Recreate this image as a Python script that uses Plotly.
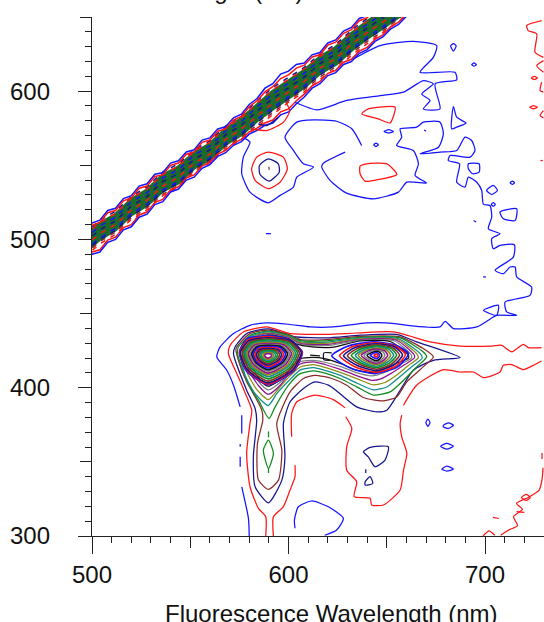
import plotly.graph_objects as go

BLUE, RED, NAVY, BROWN, GREEN, TEAL, OLIVE, PURPLE, GRAY, BLACK = (
    "#1414ff", "#ff1414", "#14148c", "#8c2a2a", "#0f8c1e", "#0f8c8c", "#8c8c14", "#8c148c", "#808080", "#111111")
CYCLE = [BLUE, RED, NAVY, BROWN, GREEN, TEAL, OLIVE, PURPLE, GRAY, BLACK]

# ---- level 1 (blue) contours, (emission nm, excitation nm)
blue_outer_a = [(580,300),(579.6,311.9),(576.2,333.2)]
blue_outer_b = [(575.4,346.7),(575.4,353.4)]
blue_outer_c = [(575.4,360.2),(575.4,362)]
blue_outer_d = [(576.2,369.1),(576.2,381.5)]
blue_outer_main = [(575.4,387.1),(572,401.7),(568.6,411.8),(563.5,420.8),(565.2,427.5),(572,436.5),(580.4,442.1),(588.9,443.7),(599.9,442.8),
    (611,441),(622.8,441),(639.8,443.7),(650,443.7),(665.2,441.4),(677.1,441),(679.7,444.8),(683.9,439.9),(695.8,441),(704.2,447.7),(705.9,448.8),
    (716.1,448.8),(711,451.1),(710.2,457.8),(722.9,462.3),(723.7,467.9),(716.1,474.7),(715.3,481.4),(712.7,481.4),(709.3,476.9),(705.1,479.2),
    (714.4,488.1),(714.9,496.4),(707.6,496),(704.2,493.7),(703.4,500.5),(707.6,503.8),(701.7,507.2),(703.4,515.1),(702.5,522.9),(699.2,523.6),
    (698.3,533),(695.8,538.6),(691.5,542),(689.8,535.3),(685.6,538.6),(687,551),(681.3,553.2),(682.2,556.6),(692.4,555.5),(694.9,560),(693.2,566.7),
    (689.8,569),(685.6,560),(677.1,558.9),(666.9,557.7),(676.3,562.2),(678.8,571.2),(677.1,579.1),(668.6,579.1),(665.2,575.7),(656.8,574.6),(657.6,569),
    (655,563.3),(663.5,560),(666.1,551),(664.4,543.1),(670.3,538),(660.2,538.6),(655.9,531.9),(643.2,527.4),(629.6,531.2),(621.1,539.8),(616.9,548.8),
    (617.7,551.4),(628.8,558.9)]
blue_mid_return = [(637.2,563.3),(632.2,574.6),(624.5,579.7),(612.7,580.6),(604.2,579.1),(598.2,569),(602.5,560),(607.6,551),(612.7,548.8),(604.2,542),
    (602.5,535.3),(595.7,529.7),(589.7,524.7),(580.4,531.9),(576.2,544.3),(577,555.5),(580.4,565.6),(578,568)]
blue_upper = [(603.3,592.5),(614.4,587.4),(629.6,593.7),(646.6,597),(658.5,599.3),(668.6,607.1),(673.7,604.9),(667.8,598.1),(672,593.7),(668.6,588),
    (677.1,588),(674.6,604.9),(685.6,607.6),(684.7,612.7),(666.9,612.7),(673.7,622.8),(675.4,630.7),(663.5,633.6),(646.6,630.7),(633,621.7)]
blue_islands = [
    [(706.8,455.6),(699.2,452.2),(705.9,448.8),(706.8,455.6)],
    [(683.9,632),(682.5,630.5),(683.9,627),(685.3,630.5),(683.9,632)],
    [(694.4,619),(693.2,617.9),(694.4,616.8),(695.6,617.9),(694.4,619)],
    [(683.9,589.6),(685.6,582.4),(690.3,578.4),(685.6,575.7),(683,574.6),(683.9,589.6)],
    [(648.6,572.8),(651,574),(653.4,572.8),(651,571.8),(648.6,572.8)],
    [(643.4,563.8),(644.5,565),(645.7,563.8),(644.5,562.6),(643.4,563.8)],
    [(669,573.8),(670,573)],
    [(704.2,536.4),(706.3,533),(703.4,530.3),(700.8,533),(704.2,536.4)],
    [(691.5,551),(697,551),(697,545.4),(693.7,544.3),(691.5,547.6),(691.5,551)],
    [(712.8,538.2),(713.9,539.3),(715,538.2),(713.9,537.1),(712.8,538.2)],
    [(707.6,518.4),(716.1,520.7),(715.3,512.8),(709.3,514),(707.6,518.4)],
    [(703.2,523.6),(704.2,524.8),(705.2,523.6),(704.2,522.4),(703.2,523.6)],
    [(694.2,512.8),(695.5,511.8)],
    [(699,474.7),(700.5,474.7)],
    [(588.5,503.9),(591,503.9)],
    [(670.9,373.9),(672,376.5),(670.9,378.9),(669.9,376.5),(670.9,373.9)],
    [(678.8,374.7),(681.4,376.3),(683.9,374.7),(681.4,372.5),(678.8,373.6),(678.8,374.7)],
    [(677.4,360.6),(680.5,362.4),(683.9,360.6),(680.5,358.6),(677.4,360.6)],
    [(678,345.1),(680.5,347.1),(683.9,345.1),(680.5,343.8),(678,345.1)],
    [(603.3,305.2),(603,310.8),(605,319.7),(611.8,323.6),(620.3,319.7),(627.9,311.9),(624.5,304),(618.4,300.5)],
]

# ---- level 2 (red) contours
red_stem_left = [(588.4,300),(588.4,313),(584.7,318.6),(580.4,333.2),(578.7,355.7),(580.4,375.9),(581.3,384.9),(577,399.4),(573.7,409.5),(569.4,423),
    (570.3,428.6),(577,437.6),(588.9,441),(600.8,436.5),(619.4,436),(634.7,436.9),(653.4,437.6),(672,430.9),(687.3,428.1),(703.4,428.1),(708.5,428.6),
    (713.6,424.1),(719.5,429.3),(722.1,427),(728.8,427)]
red_right_a = [(592.3,300),(592.3,313),(597.4,319.8),(600.8,331),(603.3,340),(603.3,347.8)]
red_right_b = [(601.6,366.9),(601.6,382.6),(604.2,390.5),(613.5,395),(622.8,392),(628.8,386.4)]
red_right_c = [(629.1,380.4),(632.2,372.5),(629.6,360.2),(629.6,344.4),(634.7,336.6),(633.4,326.5),(641.5,325.4),(642.3,320.9),(648.3,320.9),(656.8,331),
    (658.5,344.4),(660.2,355.7),(657.6,366.9),(656.8,375.9),(657.6,381.5)]
red_right_d = [(658.5,388.2),(665.2,401.7),(678.8,412.2),(687.3,410.6),(694.1,410.6),(699.2,406.8),(707.6,410.6),(709.3,415.1),(713.6,415.6),(719.5,412.2),
    (724.6,415.1),(728.8,418)]
red_corner = [(699,300),(702,303.5),(705,300.5)]
red_corner_b = [(708,300.5),(712,304),(716.5,307),(714.5,313),(719,318),(716,322),(722,326),(727.5,331),(729,338),(729.5,346)]
red_corner_c = [(704,312.5),(707,311.8)]
red_corner_d = [(716,316.5),(720,316)]
red_corner_e = [(718.5,326),(721,328),(723,326),(721,324),(718.5,326)]
red_corner_f = [(729,352),(729,356)]
red_islands = [
    [(637.3,584.7),(640.6,588),(654.2,589.2),(651.7,578.6),(645.7,581.3),(637.3,584.7)],
    [(636.4,549.4),(639.8,551),(650,551),(655.1,543.8),(644.9,540.2),(638.9,539.3),(636.4,544.3),(636.4,549.4)],
    [(589.7,558.9),(597.4,555.5),(599.4,547.6),(595.7,538.6),(589.7,534.2),(583,539.8),(581.2,547.6),(583.8,555.5),(589.7,558.9)],
    [(599,591.4),(600.7,586.9),(597.4,579),(588.9,573.4),(581.2,574.6)],
    [(728.8,647.5),(721.2,644.2),(722,640.8),(726.3,638.6),(725.4,626.2),(729.7,622.8)],
    [(729.7,620.6),(726.3,617.2),(729.7,612.7)],
    [(723.6,608.9),(725.1,610),(726.6,608.9),(725.1,607.8),(723.6,608.9)],
    [(728.8,606),(728,600.4),(729.7,599.3)],
    [(722.8,589.2),(724.6,590.3),(726.6,589.2),(724.6,588.1),(722.8,589.2)],
    [(729.7,586.9),(728,583.5),(729.7,582)],
    [(728.2,553.2),(729.4,553.2)],
]

# ---- level 3 (navy) contours
navy_main = [(589.8,322.4),(583,333.2),(582.1,353.4),(583.8,378.1),(583,386),(578.7,398.3),(572,423),(572.8,427.5),(578.7,436.5),(589.8,439.6),(602.5,434.5),
    (619.4,433.6),(636.4,435.4),(655,436),(665.2,430.9),(687.3,420.3),(673.7,418.5),(663.5,411.8),(656.8,398.3),(650,384.8),(644.9,383.7),(634.7,387.1),
    (626.2,396),(620.3,401.7),(613.5,403.9),(607.6,399.4),(600.8,390.5),(597.4,375.9),(598.2,353.4),(596.6,337.7),(589.8,322.4)]
navy_islands = [
    [(589.7,554.4),(594.8,551),(595.3,545.4),(590.2,539.3),(585.5,543.8),(585.2,549.9),(589.7,554.4)],
    [(594.8,582.4),(588.9,576.8),(584.6,577.9)],
    [(638.1,356.8),(641.5,359.7),(650.8,360.2),(649.1,351.2),(644,346.7),(640.6,353.4),(638.1,356.8)],
    [(639,336.6),(641.5,340),(642.9,335.4),(639,334.3),(639,336.6)],
    [(639.3,342.5),(639.3,345)],
]

# ---- levels 4 to 10
brown_main = [(589.8,331.4),(584.7,337.7),(584.2,362.4),(586.9,378.1),(586.4,384.9),(582.1,396),(578.7,404),(574.5,418.5),(573.3,426.4),(580.4,436.5),(589.8,438.8),(600,436),
    (606,432.5),(619.4,432.5),(636.4,434.6),(656.8,434.3),(668.6,426.4),(673.7,420.8),(669.5,415.2),(660.2,404),(655,393.8),(648.3,391.1),(638.1,393.4),(629.6,401.7),
    (622,406.2),(613.5,408.4),(607.6,406.2),(600.8,397.2),(594,375.9),(596.6,357.9),(594.9,337.7),(589.8,331.4)]
brown_dot = [(590.2,547),(590,549)]
green_stem = [(589.8,364.6),(587.2,358),(589.8,345.6),(592.3,355.7),(589.8,364.6)]
green_stem_b = [(589.8,366.5),(589.8,370.5)]
green_stem_c = [(589.8,342.5),(589.8,345.6)]
green_main = [(590.1,379.2),(584.7,391.6),(580.4,400.6),(576.2,414),(574,423),(574.5,427.5),(581.3,435.8),(589.8,438.2),(600,435.3),(606,431.7),(619.4,431.6),(636.4,434),(656.8,433.6),
    (668.6,424.1),(670.3,420.8),(665.2,414),(656.8,402.8),(651.7,397.2),(643.2,395),(634.7,400.6),(626.2,406.2),(619.4,409.5),(612.7,411.3),(605.9,409.5),(600,401.7),(593.2,387.1),(590.1,379.2)]
teal_main = [(589.7,388),(583,396),(578,408),(575.5,422),(576,428),(582,435.3),(589.8,437.6),(600,434.8),(606,431),(620,430.8),(636.4,433.5),(656,433),(667,423),(668,420),(663,414.5),(655,405.5),
    (650,400.5),(643.2,398.5),(635,403),(626,408.5),(619,411.5),(612.7,413.5),(606,412),(600,404.5),(594,396),(589.7,388)]
olive_main = [(589.7,392),(584,398.5),(579,410),(576.5,422),(577,427.5),(583,435),(589.8,437),(600,434.3),(606,430.4),(620,430),(636.4,433),(655.5,432.5),(665.5,422.5),(666,420),(661,415),(654,407.5),
    (649,403.5),(643,402),(635,406),(626,410.5),(619,413.5),(612.7,415.5),(606,414),(600,407),(595,399.5),(589.7,392)]
purple_main = [(589.7,395.5),(585,401),(580,411),(577.5,422),(578,427),(584,434.7),(589.8,436.5),(600,433.9),(606,429.8),(620,429.2),(636.4,432.5),(655,432),(664,422),(664,420),(659,415.5),(652,409.5),
    (647,406),(642.5,405),(635,408),(626,412.5),(619,415.5),(612.7,417.5),(606,416),(600,409),(596,402),(589.7,395.5)]
gray_main = [(589.7,398.5),(585.5,403),(581,412),(578.5,422),(579,426.5),(585,434.3),(589.8,436),(600,433.5),(606,429.2),(620,428.4),(636.4,432),(654,431.5),(662.5,422),(662.5,420),(657,416),(650,411),
    (645,408.5),(642,408),(635,410),(627,414),(619,417),(612.7,418.5),(606,417.5),(601,411),(597,405),(589.7,398.5)]
black_main = [(589.7,401),(586,404.5),(582,413),(579.5,422),(580,426.5),(586,434),(589.8,435.5),(600,433),(604,429.5),(612,427.5),(622,427.2),(636.4,431.5),(652,431),(661,422),(661,420),(655,416.5),(648,412.5),
    (644,410.5),(640,410.5),(634,412),(627,416),(619,419.5),(612,420.5),(606,419.5),(601,413),(597,406.5),(589.7,401)]

# ---- inner rings of the 420/590 peak
peak_a_rings = [
 [(589.5,435),(600,432.7),(607,424),(602.8,411.5),(589.5,402),(578.5,411.5),(575,424),(579,433)],
 [(589.5,434.4),(600.2,432),(606.8,424),(602.5,412),(589.5,402.5),(578.8,412),(575.3,424),(579.4,432.3)],
 [(589.5,433.7),(601.4,431.5),(606.5,423.8),(602.3,412.3),(589.5,403.3),(579,412.3),(575.5,423.8),(579.7,431.6)],
 [(589.5,433),(600.7,430.9),(605.5,423.7),(601.5,413),(589.5,404.5),(579.8,413),(576.5,423.7),(580.4,430.9)],
 [(589.5,432.2),(600,430.3),(604.5,423.6),(600.8,413.8),(589.5,406),(580.4,413.8),(577.3,423.6),(581,430.3)],
 [(589.5,431.4),(599.3,429.7),(603.5,423.4),(600,414.5),(589.5,407.5),(581,414.5),(578.1,423.4),(581.5,429.7)],
 [(589.5,430.6),(598.6,429.2),(602.5,423.3),(599.3,415.1),(589.5,408.7),(581.5,415.1),(578.9,423.3),(582.1,429.2)],
 [(589.5,429.8),(597.9,428.6),(601.5,423.2),(598.5,415.7),(589.5,409.9),(582.2,415.7),(579.7,423.2),(582.6,428.6)],
 [(589.5,429.1),(597.2,428),(600.5,423),(597.8,416.3),(589.5,411.1),(582.8,416.3),(580.5,423),(583.2,428)],
 [(589.5,428.5),(596.5,427.5),(599.5,422.9),(597,416.9),(589.5,412.2),(583.4,416.9),(581.3,422.9),(583.8,427.5)],
 [(589.5,427.8),(595.8,426.9),(598.5,422.8),(596.3,417.4),(589.5,413.3),(584,417.4),(582.1,422.8),(584.3,426.9)],
 [(589.5,427.1),(595.1,426.3),(597.5,422.6),(595.5,417.9),(589.5,414.3),(584.5,417.9),(582.9,422.6),(584.9,426.3)],
 [(589.5,426.4),(594.4,425.7),(596.5,422.5),(594.8,418.4),(589.5,415.3),(585.1,418.4),(583.7,422.5),(585.4,425.7)],
 [(589.5,425.7),(593.7,425.1),(595.5,422.3),(594,418.9),(589.5,416.3),(585.7,418.9),(584.5,422.3),(586,425.1)],
 [(589.5,425),(593,424.5),(594.5,422.2),(593.3,419.4),(589.5,417.3),(586.4,419.4),(585.3,422.2),(586.6,424.5)],
 [(589.5,424.3),(592.3,423.9),(593.5,422.1),(592.5,419.9),(589.5,418.2),(587,419.9),(586.1,422.1),(587.1,423.9)],
 [(589.5,423.6),(591.6,423.3),(592.5,421.9),(591.8,420.3),(589.5,419.1),(587.6,420.3),(587,421.9),(587.7,423.3)],
 [(589.5,422.9),(590.9,422.7),(591.5,421.8),(591,420.8),(589.5,420),(588.3,420.8),(587.9,421.8),(588.4,422.7)],
]

# ---- inner rings of the 420/645 peak
peak_b_rings = [
 [(643,431),(655,428.5),(661,423),(655.5,414),(644,409.5),(632,413),(622,421.5),(630,428)],
 [(644,430.3),(654.5,428),(659.5,422.5),(654.5,414.5),(644.5,410.5),(634,414),(626,421.5),(632,427.5)],
 [(644.5,429.6),(654,427.5),(658,422),(653.5,415.3),(644.8,411.5),(635,415),(628,421.5),(633.5,427)],
 [(644.8,428.9),(653,427),(656.5,422),(652.5,416),(644.8,412.5),(636,415.8),(630,421.6),(635,426.5)],
 [(644.8,428.2),(652,426.5),(655,422),(651.5,416.7),(644.8,413.5),(637,416.5),(632,421.7),(636.5,426)],
 [(644.8,427.5),(651,426),(653.5,421.9),(650.5,417.4),(644.8,414.5),(638,417.2),(634,421.8),(638,425.5)],
 [(644.8,426.8),(650,425.4),(652,421.9),(649.5,418),(644.8,415.5),(639,417.9),(635.5,421.8),(639,425)],
 [(644.8,426),(649,424.8),(650.5,421.9),(648.5,418.6),(644.8,416.4),(640,418.5),(637,421.8),(640,424.5)],
 [(644.8,425.3),(648,424.3),(649,421.9),(647.5,419.1),(644.8,417.3),(641,419.1),(638.5,421.8),(641,424)],
 [(644.8,424.6),(646.5,423.8),(647.5,421.9),(646.5,419.6),(644.8,418.2),(642,419.6),(640,421.8),(642,423.5)],
 [(644.8,423.7),(645.8,423),(646.3,421.9),(645.8,420.5),(644.8,419.5),(643,420.5),(641.5,421.8),(643,423)],
 [(644.8,422.7),(645.3,422.3),(645.5,421.9),(645.2,421.2),(644.8,420.8),(644,421.2),(643.5,421.8),(644,422.4)],
]
peak_bridge_dash = [(611,422),(616,421.5)]
peak_bridge_box = [(621,418.5),(618,419),(618,423.5),(622,423.5)]

# ---- diagonal scatter ridge: excitation minus emission along each line
ridge_emission = [496,504,512,520,528,536,544,552,560,568,576,584,592,600,608,616,624,632,640,648,656,664]
ridge_core = [
 [5.5,6.5,4.5,6.5,5,7,4.5,6,4,6,5,6.5,7.5,6.5,5.5,6.5,5,6.5,6.5,5.5,5,5.5],
 [3,3.5,2,4,2.5,4,2,3.5,1.5,3.5,2.5,4,4.5,4,3,3.5,2.5,3.5,3.5,3,2.5,3],
 [0.5,1.5,0,2,0.5,2,0,1.5,-0.5,1.5,0.5,1.5,2,1.5,0.5,1.5,0,1.5,1.5,0.5,0,0.5],
 [-2,-1,-2.5,-0.5,-2,-1,-3,-1.5,-3,-1.5,-2.5,-1.5,-1,-1.5,-2.5,-1.5,-3,-1.5,-1.5,-2.5,-3,-2],
 [-4.5,-3.5,-5,-3,-4.5,-3,-5.5,-3.5,-5.5,-3.5,-5,-3.5,-3.5,-4,-5,-3.5,-5.5,-4,-4,-5,-5.5,-4.5],
]
ridge_lines = [
 (NAVY,  [7.5,9,7,9,7.5,9.5,7,8.5,6.5,8.5,7.5,9.5,10.5,9.5,8,9,7.5,9,9,8,7.5,8]),
 (RED,   [6.5,7.5,5.5,8,6,8,5.5,7.5,5.5,7.5,6,8,9,8,7,7.5,6.5,7.5,7.5,7,6,7]),
 (BLUE,  [4,5,3,5.5,3.5,5.5,3,5,3,5,3.5,5.5,6,5.5,4,5,3.5,5,5,4.5,3.5,4.5]),
 (NAVY,  [1.5,2.5,0.5,2.5,1,3,0.5,2,0.5,2.5,1,2.5,3,2.5,1.5,2.5,1,2.5,2.5,1.5,1,1.5]),
 (RED,   [-1,0,-2,0,-1.5,0,-2,-0.5,-2.5,-0.5,-1.5,-0.5,0,-0.5,-1.5,-0.5,-2,-0.5,-0.5,-1.5,-2,-1]),
 (BLUE,  [-3.5,-3,-4.5,-2.5,-4,-2.5,-5,-3,-5,-3,-4.5,-3,-3,-3.5,-4.5,-3,-5,-3.5,-3.5,-4.5,-5,-4]),
 (NAVY,  [-5,-4,-6,-4,-5.5,-4,-6,-4.5,-6,-4.5,-5.5,-5,-5,-5,-6,-5,-6,-5,-5,-6,-6,-5.5]),
 (BROWN, [-6.5,-5.5,-7,-5.5,-6.5,-5.5,-7.5,-5.5,-7,-5.5,-7,-6.5,-6.5,-6.5,-7,-6.5,-7.5,-6.5,-6.5,-7.5,-7.5,-7]),
 (RED,   [-8,-7,-8.5,-6.5,-8,-6.5,-8.5,-6.5,-8,-7,-8.5,-8,-8,-7.5,-8.5,-8,-9,-8,-8,-8.5,-9,-8.5]),
]
ridge_edge_emission = [496,500,504,508,512,516,520,524,528,532,536,540,544,548,552,556,560,564,568,572,576,580,584,588,592,596,600,604,608,612,616,620,624,628,632,636,640,644,648,652,656,660,664]
ridge_edges = [
 (BLUE, [9,11,9,11.5,9,11.5,9.5,12,9.5,12,9,11.5,9,11,8.5,11,8.5,10.5,8,10,8.5,11,11,14,13,15.5,13.5,14,11,12.5,10,12.5,10.5,12.5,11,13,11,12.5,10.5,12,10,11.5,10.5]),
 (RED,  [7.5,9.5,7.5,10,7.5,10,8,10.5,8,10.5,7.5,10,7.5,9.5,7,9.5,7,9,6.5,8.5,7,9.5,9.5,11.5,11,12.5,11,11.5,9.5,11,8.5,11,9,11,9.5,11.5,9.5,11,9,10.5,8.5,10,9]),
 (RED,  [-10.5,-8.5,-11,-8.5,-10.5,-8,-10,-7.5,-9.5,-7,-9,-6.5,-8.5,-6.5,-8.5,-6.5,-8,-6.5,-8,-7,-8.5,-7.5,-9,-9.5,-11.5,-10,-12,-10.5,-10,-8.5,-9.5,-8,-10,-8.5,-10.5,-9,-10.5,-9,-10,-8.5,-9.5,-8,-9]),
 (BLUE, [-12,-10,-12.5,-10,-12,-9.5,-11.5,-9,-11,-8.5,-10.5,-8,-10,-8,-10,-8,-9.5,-8,-9.5,-8.5,-10,-9,-10.5,-11,-13.5,-12,-14,-12.5,-12,-10,-11,-9.5,-11.5,-10,-12,-10.5,-12,-10.5,-11.5,-10,-11,-9.5,-10.5]),
]

x_major = [500, 600, 700]
x_mid = [550, 650]
x_minor = [510,520,530,540,560,570,580,590,610,620,630,640,660,670,680,690,710,720,730]
y_major = [300, 400, 500, 600]
y_mid = [350, 450, 550, 650]
y_minor = [310,320,330,340,360,370,380,390,410,420,430,440,460,470,480,490,510,520,530,540,560,570,580,590,610,620,630,640]
x_title = "Fluorescence Wavelength (nm)"
y_title = "Excitation Wavelength (nm)"

fig = go.Figure()

def add(pts, color, width=1.25, smooth=True, dash=None):
    line = dict(color=color, width=width)
    if smooth:
        line.update(shape="spline", smoothing=0.6)
    if dash:
        line["dash"] = dash
    fig.add_trace(go.Scatter(x=[p[0] for p in pts], y=[p[1] for p in pts], mode="lines",
                             line=line, showlegend=False, hoverinfo="skip"))

for shift in ridge_core:
    add(list(zip(ridge_emission, [e + s for e, s in zip(ridge_emission, shift)])), "#1c6b2c", 4.2, False)
for color, shift in ridge_lines:
    add(list(zip(ridge_emission, [e + s for e, s in zip(ridge_emission, shift)])), color, 1.5, False, "5px,6px")
for color, shift in ridge_edges:
    add(list(zip(ridge_edge_emission, [e + s for e, s in zip(ridge_edge_emission, shift)])), color, 1.5, False)

for seg in [blue_outer_a, blue_outer_b, blue_outer_c, blue_outer_d, blue_outer_main, blue_mid_return, blue_upper] + blue_islands:
    add(seg, BLUE)
for seg in [red_stem_left, red_right_a, red_right_b, red_right_c, red_right_d, red_corner, red_corner_b, red_corner_c,
            red_corner_d, red_corner_e, red_corner_f] + red_islands:
    add(seg, RED)
add(navy_main, NAVY)
for seg in navy_islands:
    add(seg, NAVY)
add(brown_main, BROWN)
add(brown_dot, BROWN)
for seg in [green_stem, green_stem_b, green_stem_c, green_main]:
    add(seg, GREEN)
add(teal_main, TEAL)
add(olive_main, OLIVE)
add(purple_main, PURPLE)
add(gray_main, GRAY)
add(black_main, BLACK)
add(peak_bridge_dash, BLACK)
add(peak_bridge_box, BLACK)
for i, ring in enumerate(peak_a_rings):
    add(ring + ring[:1], CYCLE[i % 10], 1.7)
for i, ring in enumerate(peak_b_rings):
    add(ring + ring[:1], CYCLE[i % 10], 1.6)

# helper trace that keeps the overlay axes (longer half-way ticks) alive
fig.add_trace(go.Scatter(x=[None], y=[None], xaxis="x2", yaxis="y2", showlegend=False, hoverinfo="skip"))

INK = "#222222"
FONT = dict(family="Liberation Sans, Arial, sans-serif", size=24, color="#111111")
fig.update_layout(
    width=544, height=622, autosize=False, plot_bgcolor="white", paper_bgcolor="white",
    margin=dict(l=92, r=0, t=17, b=86), showlegend=False, font=FONT,
    xaxis=dict(range=[500, 730], showgrid=False, zeroline=False, showline=True, linecolor=INK, linewidth=1.3,
               tickmode="array", tickvals=x_major, ticks="outside", ticklen=17, tickwidth=1.3, tickcolor=INK, tickfont=FONT,
               minor=dict(tickmode="array", tickvals=x_minor, ticks="outside", ticklen=6, tickwidth=1.2, tickcolor=INK, showgrid=False)),
    yaxis=dict(range=[300, 650], showgrid=False, zeroline=False, showline=True, linecolor=INK, linewidth=1.3,
               tickmode="array", tickvals=y_major, ticks="outside", ticklen=13, tickwidth=1.3, tickcolor=INK, tickfont=FONT,
               ticklabelstandoff=23,
               minor=dict(tickmode="array", tickvals=y_minor, ticks="outside", ticklen=6, tickwidth=1.2, tickcolor=INK, showgrid=False)),
    xaxis2=dict(range=[500, 730], overlaying="x", side="bottom", anchor="y2", showgrid=False, zeroline=False, showticklabels=False,
                tickmode="array", tickvals=x_mid, ticks="outside", ticklen=11, tickwidth=1.2, tickcolor=INK),
    yaxis2=dict(range=[300, 650], overlaying="y", side="left", anchor="x2", showgrid=False, zeroline=False, showticklabels=False,
                tickmode="array", tickvals=y_mid, ticks="outside", ticklen=11, tickwidth=1.2, tickcolor=INK),
    annotations=[
        dict(text=x_title, xref="paper", yref="paper", x=0.529, y=0, yshift=-77, yanchor="middle", xanchor="center",
             showarrow=False, font=FONT),
        dict(text=y_title, xref="paper", yref="paper", x=0.144, y=1, yshift=11, yanchor="bottom", xanchor="center",
             showarrow=False, font=FONT),
    ],
)
fig.write_html("out.html", config=dict(displayModeBar=False),
               post_script="document.body.style.margin='0';document.body.style.overflow='hidden';")
